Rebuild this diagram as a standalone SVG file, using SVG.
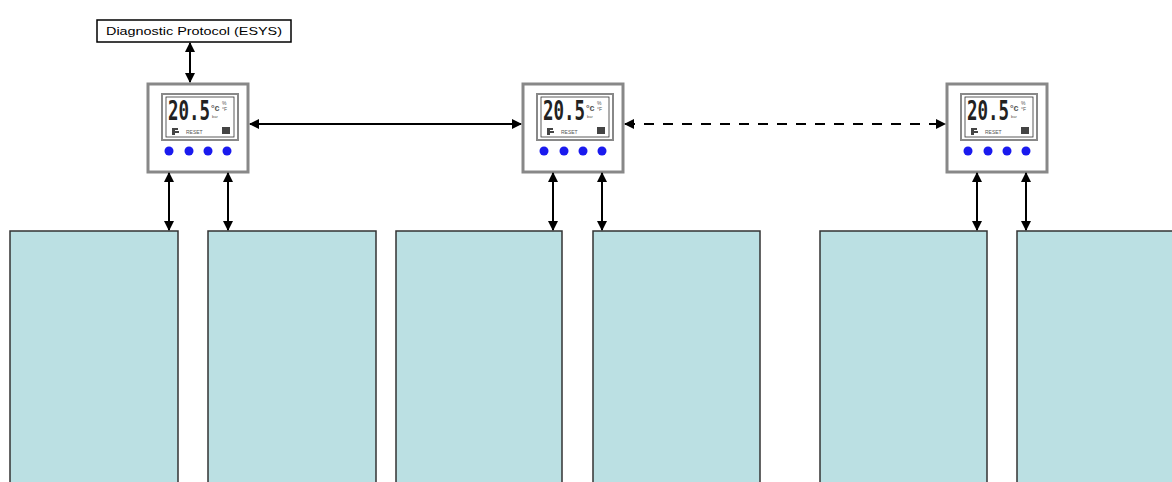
<svg xmlns="http://www.w3.org/2000/svg" width="1172" height="482" viewBox="0 0 1172 482">
<style>
.lbl{font-family:"Liberation Sans",Arial,sans-serif;font-size:11px;fill:#000}
.frame{fill:#fff;stroke:#888;stroke-width:3}
.disp{fill:#fff;stroke:#888;stroke-width:2}
.disp2{fill:none;stroke:#333;stroke-width:0.8}
.dig{font-family:"DejaVu Sans Mono",monospace;font-size:26px;font-weight:bold;fill:#222}
.sm{font-family:"Liberation Sans",Arial,sans-serif;fill:#555}
.dot{fill:#1a1aee}
.rack{fill:#bbe0e3;stroke:#333;stroke-width:1.5}
.conn{stroke:#000;stroke-width:2;fill:none}
</style>
<defs>
<marker id="ah" viewBox="0 0 10 10" refX="9" refY="5" markerWidth="5" markerHeight="5" orient="auto-start-reverse">
<path d="M0,0 L10,5 L0,10 z" fill="#000"/>
</marker>
<g id="dev">
<rect class="frame" x="0" y="0" width="100" height="88"/>
<rect class="disp" x="14" y="10" width="76" height="46"/>
<rect class="disp2" x="18" y="13" width="68" height="40"/>
<text class="dig" x="20" y="36" textLength="42" lengthAdjust="spacingAndGlyphs">20.5</text>
<text class="sm" x="63" y="27" font-size="9" font-weight="bold" fill="#222">°c</text>
<text class="sm" x="74" y="21" font-size="5">%</text>
<text class="sm" x="74" y="27" font-size="5">°F</text>
<text class="sm" x="64" y="34" font-size="4">bar</text>
<path d="M24,44 h6 v2 h-3 v1 h4 v2 h-4 v2 h-3 z" fill="#444"/>
<text class="sm" x="38" y="50" font-size="5">RESET</text>
<rect x="74" y="43" width="8" height="7" fill="#444"/>
<circle class="dot" cx="21" cy="67" r="4.5"/>
<circle class="dot" cx="41" cy="67" r="4.5"/>
<circle class="dot" cx="60" cy="67" r="4.5"/>
<circle class="dot" cx="79" cy="67" r="4.5"/>
</g>
</defs>
<g id="diag">
<rect x="97" y="20" width="194" height="22" fill="#fff" stroke="#000" stroke-width="1.5"/>
<text class="lbl" x="194" y="35" text-anchor="middle" textLength="176" lengthAdjust="spacingAndGlyphs">Diagnostic Protocol (ESYS)</text>
</g>
<g id="device1"><use href="#dev" x="148" y="84"/></g>
<g id="device2"><use href="#dev" x="523" y="84"/></g>
<g id="device3"><use href="#dev" x="947" y="84"/></g>
<g id="rack1"><rect class="rack" x="10" y="231" width="168" height="260"/></g>
<g id="rack2"><rect class="rack" x="208" y="231" width="168" height="260"/></g>
<g id="rack3"><rect class="rack" x="396" y="231" width="166" height="260"/></g>
<g id="rack4"><rect class="rack" x="593" y="231" width="167" height="260"/></g>
<g id="rack5"><rect class="rack" x="820" y="231" width="167" height="260"/></g>
<g id="rack6"><rect class="rack" x="1017" y="231" width="167" height="260"/></g>
<g id="connectors">
<line class="conn" x1="190" y1="43" x2="190" y2="82" marker-start="url(#ah)" marker-end="url(#ah)"/>
<line class="conn" x1="250" y1="124" x2="521" y2="124" marker-start="url(#ah)" marker-end="url(#ah)"/>
<line class="conn" x1="625" y1="124" x2="945" y2="124" stroke-dasharray="10,9" marker-start="url(#ah)" marker-end="url(#ah)"/>
<line class="conn" x1="169" y1="173" x2="169" y2="230" marker-start="url(#ah)" marker-end="url(#ah)"/>
<line class="conn" x1="228" y1="173" x2="228" y2="230" marker-start="url(#ah)" marker-end="url(#ah)"/>
<line class="conn" x1="553" y1="173" x2="553" y2="230" marker-start="url(#ah)" marker-end="url(#ah)"/>
<line class="conn" x1="602" y1="173" x2="602" y2="230" marker-start="url(#ah)" marker-end="url(#ah)"/>
<line class="conn" x1="977" y1="173" x2="977" y2="230" marker-start="url(#ah)" marker-end="url(#ah)"/>
<line class="conn" x1="1026" y1="173" x2="1026" y2="230" marker-start="url(#ah)" marker-end="url(#ah)"/>
</g>
</svg>
